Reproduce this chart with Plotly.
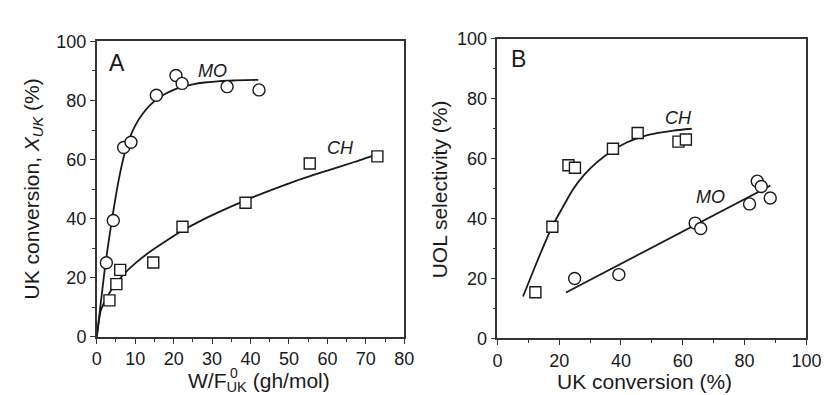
import plotly.graph_objects as go

# ---------------- data ----------------
# Panel A: conversion vs W/F0
a_mo_x = [2.5, 4.3, 7.0, 8.9, 15.5, 20.6, 22.2, 33.9, 42.2]
a_mo_y = [25.1, 39.4, 64.1, 65.9, 81.8, 88.5, 85.8, 84.7, 83.6]
a_ch_x = [3.3, 5.1, 6.1, 14.7, 22.3, 38.7, 55.4, 73.0]
a_ch_y = [12.4, 17.9, 22.7, 25.2, 37.3, 45.4, 58.7, 61.1]
# fitted curves
a_mo_fit_x = [0, 1, 2, 3, 4, 5, 6, 7, 8, 10, 12, 14, 16, 18, 20, 22, 25, 28, 32, 36, 42]
a_mo_fit_y = [0, 11.0, 22.0, 31.5, 40.0, 48.0, 55.0, 60.8, 65.3, 71.5, 75.6, 78.6, 80.8, 82.4, 83.6, 84.6, 85.5, 86.1, 86.6, 86.8, 87.0]
a_ch_fit_x = [0, 1, 2, 3, 5, 7, 10, 14, 18, 22, 27, 32, 38, 45, 52, 60, 67, 73]
a_ch_fit_y = [0, 8.7, 11.9, 14.3, 18.1, 21.2, 24.9, 29.0, 32.5, 35.8, 39.3, 42.4, 45.9, 49.5, 52.9, 56.3, 59.2, 61.9]

# Panel B: selectivity vs conversion
b_ch_x = [12.3, 17.8, 23.0, 25.1, 37.4, 45.4, 58.6, 61.0]
b_ch_y = [15.4, 37.3, 57.8, 57.0, 63.3, 68.6, 65.7, 66.4]
b_mo_x = [25.0, 39.3, 64.0, 65.8, 81.6, 84.1, 85.4, 88.3]
b_mo_y = [20.0, 21.3, 38.5, 36.7, 44.9, 52.5, 50.7, 46.9]
b_ch_fit_x = [8.3, 12, 15, 17.8, 21, 24.3, 28, 32, 37.4, 42, 47, 52, 57, 62.9]
b_ch_fit_y = [14.0, 23.5, 31.0, 37.5, 43.5, 49.5, 54.5, 58.6, 62.8, 65.5, 67.4, 68.6, 69.4, 70.0]
b_mo_fit_x = [22.2, 88.3]
b_mo_fit_y = [15.3, 51.0]

FONT = "Liberation Sans, Arial, sans-serif"
INK = "#1a1a1a"
AX = "#333333"

fig = go.Figure()

def line(x, y, xa, ya):
    fig.add_trace(go.Scatter(x=x, y=y, mode="lines", xaxis=xa, yaxis=ya,
                             line=dict(color=INK, width=1.8, shape="spline", smoothing=0.6),
                             hoverinfo="skip", showlegend=False))

def marks(x, y, sym, size, xa, ya):
    fig.add_trace(go.Scatter(x=x, y=y, mode="markers", xaxis=xa, yaxis=ya,
                             marker=dict(symbol=sym, size=size, color="white",
                                         line=dict(color=INK, width=1.4)),
                             showlegend=False))

line(a_mo_fit_x, a_mo_fit_y, "x", "y")
line(a_ch_fit_x, a_ch_fit_y, "x", "y")
marks(a_mo_x, a_mo_y, "circle", 12, "x", "y")
marks(a_ch_x, a_ch_y, "square", 11, "x", "y")

line(b_ch_fit_x, b_ch_fit_y, "x2", "y2")
line(b_mo_fit_x, b_mo_fit_y, "x2", "y2")
marks(b_ch_x, b_ch_y, "square", 11, "x2", "y2")
marks(b_mo_x, b_mo_y, "circle", 12, "x2", "y2")

def axis(rng, dtick, domain, anchor, minor):
    return dict(range=rng, dtick=dtick, tick0=0, domain=domain, anchor=anchor,
                showgrid=False, zeroline=False, showline=True, linecolor=AX, linewidth=1.5,
                mirror=True, ticks="outside", ticklen=5, tickwidth=1.3, tickcolor=AX,
                tickfont=dict(family=FONT, size=18, color=INK),
                minor=dict(dtick=minor, ticks="outside", ticklen=3, tickwidth=1.2, tickcolor=AX))

fig.update_layout(
    width=830, height=395,
    margin=dict(l=0, r=0, t=0, b=0),
    paper_bgcolor="white", plot_bgcolor="white",
    xaxis=axis([0, 80], 10, [0.1034, 0.4831], "y", 5),
    yaxis=axis([0, 100], 20, [0.1494, 0.9375], "x", 10),
    xaxis2=axis([0, 100], 20, [0.598, 0.9795], "y2", 10),
    yaxis2=axis([0, 100], 20, [0.1456, 0.9443], "x2", 10),
)

def ann(text, x, y, size, angle=0, italic=False, xanchor="center"):
    fig.add_annotation(text=text, xref="paper", yref="paper", x=x / 830, y=1 - y / 395,
                       xanchor=xanchor, yanchor="middle", showarrow=False, textangle=angle,
                       font=dict(family=FONT, size=size, color=INK,
                                 style="italic" if italic else "normal"))

ann("UK conversion, <i>X</i><sub><i>UK</i></sub> (%)", 20, 180, 21, angle=-90)
ann("W/F<sub>UK</sub> (gh/mol)", 252, 383, 21)
ann("0", 226, 374, 14)
ann("UOL selectivity (%)", 437, 180, 21, angle=-90)
ann("UK conversion (%)", 647, 383, 21)
ann("A", 107, 47, 23)
ann("B", 518, 43, 23)
ann("MO", 204, 56, 18, italic=True)
ann("CH", 336, 137, 18, italic=True)
ann("CH", 682, 105, 18, italic=True)
ann("MO", 715, 189, 18, italic=True)

fig.write_html("out.html")
